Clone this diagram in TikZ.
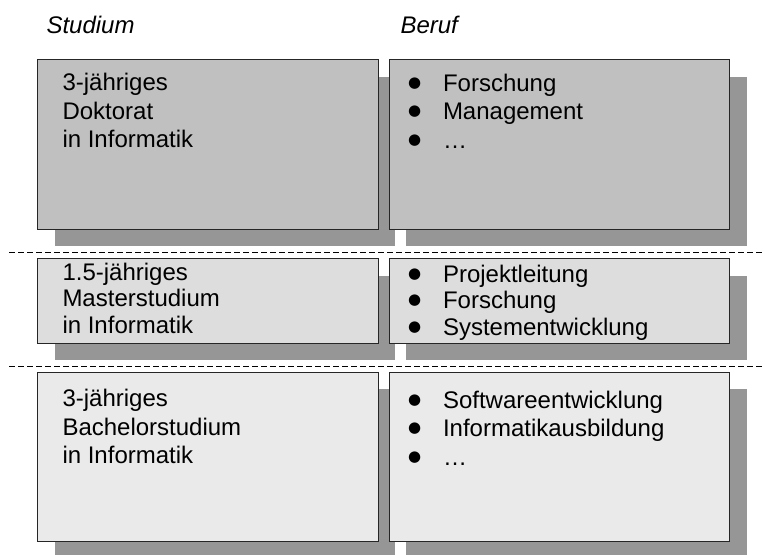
\documentclass[tikz,border=0pt]{standalone}
\usepackage{fontspec}
\setmainfont{Liberation Sans}
\newfontfamily\symbolfont{DejaVu Sans}
\usetikzlibrary{shadows}

% colours of the three bands and of the drop shadows
\definecolor{shadowgray}{HTML}{969696}
\definecolor{phdfill}{HTML}{C0C0C0}
\definecolor{mscfill}{HTML}{DDDDDD}
\definecolor{bscfill}{HTML}{EAEAEA}

% lines stacked under each other, baseline = first line
\newcommand{\linestack}[1]{\begin{tabular}[t]{@{}l@{}}#1\end{tabular}}
% one bulleted entry of a list, with a round bullet
\newcommand{\bulletitem}[1]{\makebox[35pt][l]{\raisebox{4pt}{\fontsize{15}{15}\symbolfont ●}}#1}

\begin{document}
\begin{tikzpicture}[x=1pt,y=-1pt,
  card/.style={rectangle, draw=black!85, line width=0.8pt, inner sep=0pt,
    outer sep=0pt, anchor=north west, minimum width=340.5pt,
    general shadow={fill=shadowgray, shadow xshift=17pt, shadow yshift=-17pt}},
  tallcard/.style={card, minimum height=169.5pt},
  flatcard/.style={card, minimum height=84.5pt},
  wide/.style={font=\fontsize{24}{28.5}\selectfont},
  narrow/.style={font=\fontsize{24}{26.5}\selectfont},
  label/.style={anchor=base west, inner sep=0pt, outer sep=0pt},
  heading/.style={label, font=\fontsize{24}{28.5}\selectfont\itshape},
  separator/.style={draw=black, line width=0.9pt, dash pattern=on 5.5pt off 3.5pt}
]
\clip (0,0) rectangle (765,554);

% column headings
\node[heading] (hstudy) at (46.5,33) {Studium};
\node[heading] (hjob)   at (400.5,33) {Beruf};

% doctorate
\node[tallcard, fill=phdfill] (phd)    at (37.5,59.5) {};
\node[tallcard, fill=phdfill] (phdjob) at (389,59.5) {};
\node[label, wide] (phdtext) at (62.5,90.7)
  {\linestack{3-jähriges\\Doktorat\\in Informatik}};
\node[label, wide] (phdlist) at (408,91)
  {\linestack{\bulletitem{Forschung}\\\bulletitem{Management}\\\bulletitem{…}}};

% master
\node[flatcard, fill=mscfill] (msc)    at (37.5,258.5) {};
\node[flatcard, fill=mscfill] (mscjob) at (389,258.5) {};
\node[label, narrow] (msctext) at (62.5,280)
  {\linestack{1.5-jähriges\\Masterstudium\\in Informatik}};
\node[label, narrow] (msclist) at (408,282)
  {\linestack{\bulletitem{Projektleitung}\\\bulletitem{Forschung}\\\bulletitem{Systementwicklung}}};

% bachelor
\node[tallcard, fill=bscfill] (bsc)    at (37.5,372) {};
\node[tallcard, fill=bscfill] (bscjob) at (389,372) {};
\node[label, wide] (bsctext) at (62.5,406.7)
  {\linestack{3-jähriges\\Bachelorstudium\\in Informatik}};
\node[label, wide] (bsclist) at (408,408)
  {\linestack{\bulletitem{Softwareentwicklung}\\\bulletitem{Informatikausbildung}\\\bulletitem{…}}};

% dashed separators between the bands
\draw[separator] (9,252) -- (765,252);
\draw[separator] (9,366) -- (765,366);
\end{tikzpicture}
\end{document}
